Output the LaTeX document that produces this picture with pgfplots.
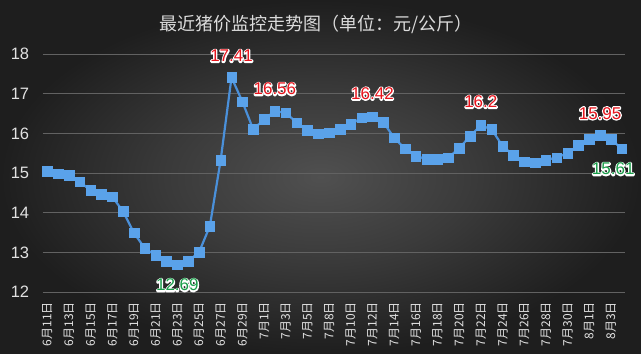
\documentclass[border=0pt]{standalone}
\usepackage{pgfplots}
\pgfplotsset{compat=1.18}
\usepackage{fontspec}
\setmainfont{Liberation Sans}
\newfontfamily\cjk{Noto Sans CJK SC}
\definecolor{bgIn}{HTML}{505050}
\definecolor{bgMid}{HTML}{3A3A3A}
\definecolor{bgOut}{HTML}{1E1E1E}
\definecolor{titlec}{HTML}{DCDCDC}
\definecolor{tickc}{HTML}{E2E2E2}
\definecolor{gridc}{HTML}{626262}
\definecolor{lineblue}{HTML}{4A90DA}
\definecolor{markblue}{HTML}{5AA2EA}
\definecolor{labred}{HTML}{E8141C}
\definecolor{labgreen}{HTML}{1A9E4A}
\pgfdeclareradialshading{bgshade}{\pgfpoint{0bp}{0bp}}{color(0bp)=(bgIn); color(12bp)=(bgMid); color(25bp)=(bgOut); color(50bp)=(bgOut)}

\tikzset{vlab/.style={inner sep=0pt, font=\fontsize{17}{19}\selectfont}}
% #1 point, #2 shift, #3 colour, #4 text
\newcommand\halo[4]{%
  \node[vlab,#2,text=white] at (axis cs:#1) {\special{pdf:literal direct 1 Tr 2.6 w 1 j 1 J 1 1 1 RG}#4\special{pdf:literal direct 0 Tr}};
  \node[vlab,#2,text=#3] at (axis cs:#1) {#4};
}

\pgfplotstableread{
x y
0 15.05
1 14.98
2 14.94
3 14.78
4 14.56
5 14.46
6 14.40
7 14.03
8 13.49
9 13.10
10 12.93
11 12.78
12 12.69
13 12.78
14 13.00
15 13.66
16 15.33
17 17.41
18 16.80
19 16.10
20 16.35
21 16.56
22 16.52
23 16.27
24 16.08
25 15.99
26 16.02
27 16.10
28 16.23
29 16.39
30 16.42
31 16.28
32 15.89
33 15.61
34 15.43
35 15.35
36 15.35
37 15.39
38 15.62
39 15.93
40 16.20
41 16.10
42 15.68
43 15.45
44 15.28
45 15.26
46 15.33
47 15.39
48 15.50
49 15.70
50 15.85
51 15.95
52 15.85
53 15.61
}\pricedata

\begin{document}
\begin{tikzpicture}
\shade[shading=bgshade] (0,0) rectangle (641pt,354pt);
\path[use as bounding box] (0,0) rectangle (641pt,354pt);
\node[font=\cjk\fontsize{18}{20}\selectfont, text=titlec] at (316pt,330pt) {最近猪价监控走势图（单位：元/公斤）};
\begin{axis}[
  at={(42.7pt,62pt)}, anchor=south west, scale only axis,
  width=582.3pt, height=238pt,
  xmin=-0.42, xmax=53.3, ymin=12, ymax=18,
  ytick={12,13,...,18},
  xtick={0,2,...,52},
  xticklabels={6月11日,6月13日,6月15日,6月17日,6月19日,6月21日,6月23日,6月25日,6月27日,6月29日,7月1日,7月3日,7月5日,7月8日,7月10日,7月12日,7月14日,7月16日,7月18日,7月20日,7月22日,7月24日,7月26日,7月28日,7月30日,8月1日,8月3日},
  axis line style={draw=none},
  major tick length=0pt,
  ymajorgrids,
  major grid style={draw=gridc, line width=0.8pt},
  yticklabel style={font=\fontsize{16.5}{18}\selectfont, text=tickc, xshift=-10pt},
  xticklabel style={font=\cjk\fontsize{12}{14}\selectfont, text=tickc, yshift=-6.5pt, rotate=90, anchor=east},
  /pgf/number format/assume math mode=true,
  clip=false,
]
\addplot[color=lineblue, line width=2.2pt, mark=square*, mark size=4.8pt,
  mark options={solid, fill=markblue, draw=markblue, line width=0.4pt}] table[x=x,y=y] {\pricedata};
\halo{17,17.41}{yshift=21.5pt}{labred}{17.41}
\halo{21,16.56}{yshift=22pt}{labred}{16.56}
\halo{30,16.42}{yshift=23pt}{labred}{16.42}
\halo{40,16.2}{yshift=23.5pt}{labred}{16.2}
\halo{51,15.95}{yshift=22pt}{labred}{15.95}
\halo{12,12.69}{yshift=-20.5pt}{labgreen}{12.69}
\halo{53,15.61}{yshift=-20.3pt,xshift=-8.5pt}{labgreen}{15.61}
\end{axis}
\end{tikzpicture}
\end{document}
